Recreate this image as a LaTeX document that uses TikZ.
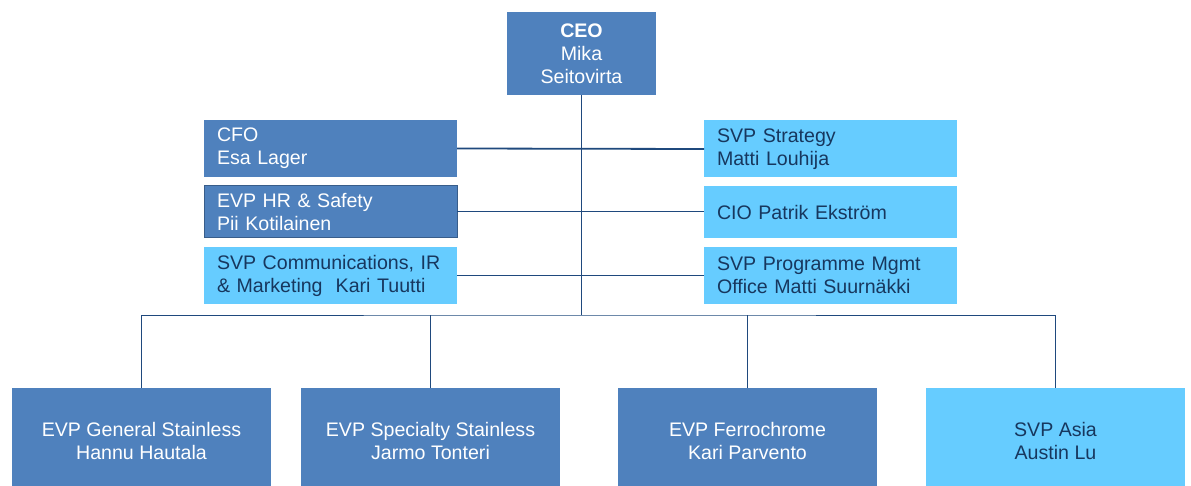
\documentclass[tikz,border=0pt]{standalone}
\usepackage{fontspec}
\setmainfont{Liberation Sans}

\definecolor{boxdark}{HTML}{4F81BD}
\definecolor{boxlight}{HTML}{66CCFF}
\definecolor{textnavy}{HTML}{17375E}
\definecolor{linknavy}{HTML}{1F497D}
\definecolor{edgenavy}{HTML}{385D8A}

\tikzset{
  orgbox/.style = {inner sep=0pt, outer sep=0pt, font=\fontsize{19.6}{23}\selectfont},
  darkbox/.style = {orgbox, fill=boxdark, text=white},
  lightbox/.style = {orgbox, fill=boxlight, text=textnavy},
  staffbox/.style = {align=left, text width=227pt, inner xsep=13pt, minimum height=57pt},
  unitbox/.style = {align=center, minimum width=259pt, minimum height=106pt},
  link/.style = {draw=linknavy, line width=1pt},
  trunk/.style = {link, line width=1.8pt}
}

\begin{document}
\begin{tikzpicture}[x=1pt, y=-1pt]
\useasboundingbox (0,0) rectangle (1191,486);

% top of the chart
\node[darkbox, align=center, minimum width=149pt, minimum height=83pt] (ceo) at (581.5,53.5)
  {\textbf{CEO}\\Mika\\Seitovirta};

% staff functions, left column
\node[darkbox, staffbox] (cfo) at (330.5,148.5) {CFO\\Esa Lager};
\node[darkbox, staffbox, minimum height=52pt, draw=edgenavy, line width=1pt] (hr) at (330.5,212)
  {EVP HR \& Safety\\Pii Kotilainen};
\node[lightbox, staffbox] (comms) at (330.5,275.5) {SVP Communications, IR\\\& Marketing\ \ Kari Tuutti};

% staff functions, right column
\node[lightbox, staffbox] (strategy) at (830.5,149) {SVP Strategy\\Matti Louhija};
\node[lightbox, staffbox, minimum height=52pt] (cio) at (830.5,212) {CIO Patrik Ekstr\"om};
\node[lightbox, staffbox] (pmo) at (830.5,275.5) {SVP Programme Mgmt\\Office Matti Suurn\"akki};

% business areas (boxes run off the bottom edge)
\foreach \name/\x/\kind/\txt in {
    gen/141.5/darkbox/{EVP General Stainless\\Hannu Hautala},
    spec/430.5/darkbox/{EVP Specialty Stainless\\Jarmo Tonteri},
    ferro/747.5/darkbox/{EVP Ferrochrome\\Kari Parvento},
    asia/1055.5/lightbox/{SVP Asia\\Austin Lu}}
  \node[\kind, unitbox] (\name) at (\x,441) {\txt};

\coordinate (bus) at (581.5,315);

% reporting lines
\draw[trunk] (ceo.south) -- (bus);
\draw[trunk] (cfo.east) -- (strategy.west);
\draw[link] (hr.east) -- (cio.west);
\draw[link] (comms.east) -- (pmo.west);
\draw[link] (gen.north) |- (bus) -| (asia.north);
\draw[trunk] (asia.north) -- (asia.north |- bus);
\draw[trunk] (spec.north) -- (spec.north |- bus);
\draw[link] (ferro.north) -- (ferro.north |- bus);
\end{tikzpicture}
\end{document}
